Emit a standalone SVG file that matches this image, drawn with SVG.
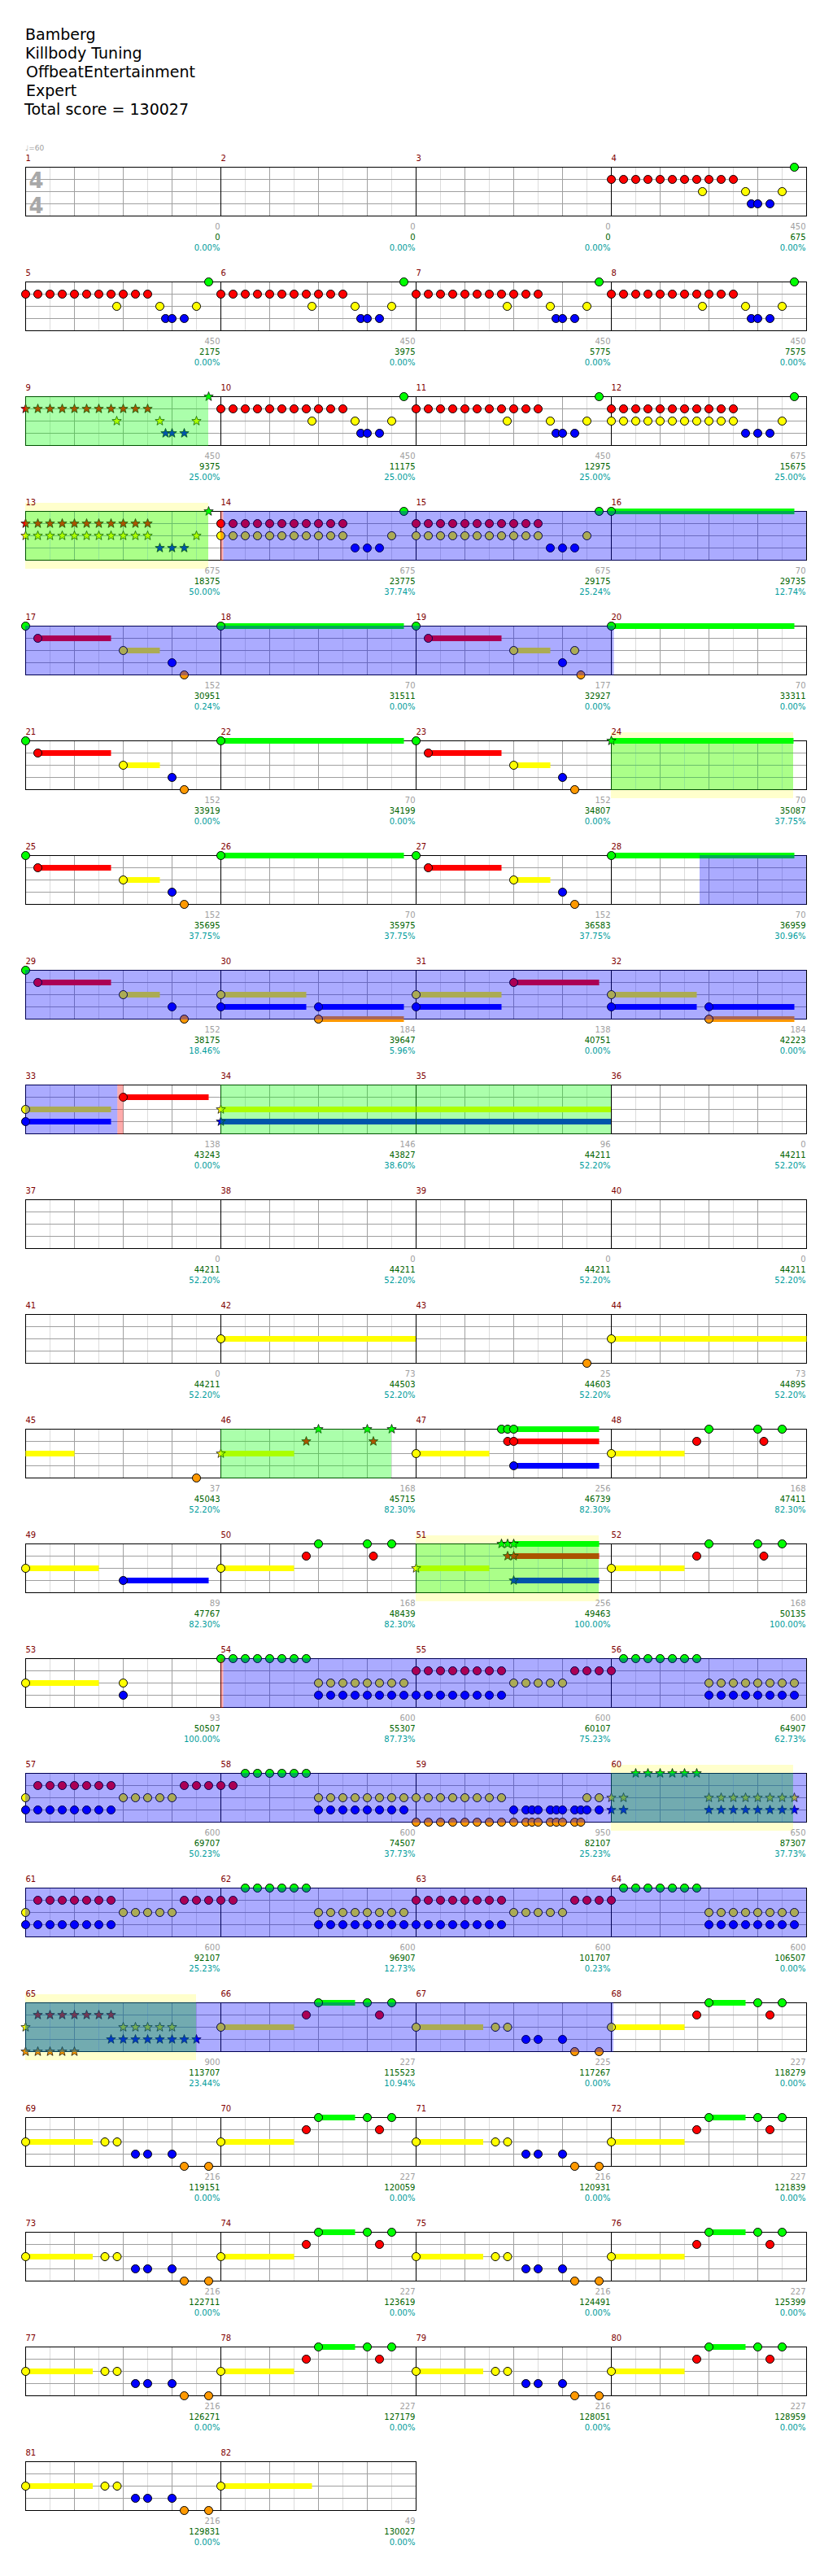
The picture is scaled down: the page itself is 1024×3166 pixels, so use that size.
<svg xmlns="http://www.w3.org/2000/svg" width="1024" height="3166" viewBox="0 0 1024 3166">
<style>
text{font-family:"DejaVu Sans","Liberation Sans",sans-serif}
.t{font-size:19px;fill:#000}
.mn{font-size:10px;fill:#800000}
.tp{font-size:9px;fill:#a0a0a0}
.ts{font-size:26px;font-weight:bold;fill:#a8a8a8}
.a,.b,.c{font-size:10px;text-anchor:end}
.a{fill:#a0a0a0}.b{fill:#006400}.c{fill:#009c9c}
.G{fill:#0f0}.R{fill:#f00}.Y{fill:#ff0}.B{fill:#00f}.O{fill:#f90}
.bl{fill:#00f;fill-opacity:.33}
.gr{fill:#0f0;fill-opacity:.33}
.pk{fill:#f00;fill-opacity:.33}
.yb{fill:#ffffcc}
</style>
<defs>
<g id="grid">
<path d="M30 0V60M90 0V60M150 0V60M210 0V60" stroke="#dcdcdc"/>
<path d="M60 0V60M120 0V60M180 0V60M0 15H240M0 30H240M0 45H240" stroke="#a0a0a0"/>
<rect width="240" height="60" fill="none" stroke="#000"/>
</g>
<circle id="n" r="5" stroke="#000"/>
<path id="s" d="M0-6L1.47-2.02L5.71-1.85L2.38.77L3.53 4.85L0 2.5L-3.53 4.85L-2.38.77L-5.71-1.85L-1.47-2.02Z" stroke="#000" stroke-width=".7"/>
<g id="r5"><use href="#n"/><use href="#n" x="15"/><use href="#n" x="30"/><use href="#n" x="45"/><use href="#n" x="60"/></g>
<g id="r6"><use href="#r5"/><use href="#n" x="75"/></g>
<g id="r7"><use href="#r6"/><use href="#n" x="90"/></g>
<g id="r8"><use href="#r7"/><use href="#n" x="105"/></g>
<g id="r11"><use href="#r8"/><use href="#n" x="120"/><use href="#n" x="135"/><use href="#n" x="150"/></g>
<g id="s5"><use href="#s"/><use href="#s" x="15"/><use href="#s" x="30"/><use href="#s" x="45"/><use href="#s" x="60"/></g>
<g id="s6"><use href="#s5"/><use href="#s" x="75"/></g>
<g id="s7"><use href="#s6"/><use href="#s" x="90"/></g>
<g id="s8"><use href="#s7"/><use href="#s" x="105"/></g>
<g id="s11"><use href="#s8"/><use href="#s" x="120"/><use href="#s" x="135"/><use href="#s" x="150"/></g>
<g id="P"><g class="R" transform="translate(0 15)"><use href="#r11"/></g><g class="Y" transform="translate(0 30)"><use href="#n" x="112"/><use href="#n" x="165"/><use href="#n" x="210"/></g><g class="B" transform="translate(0 45)"><use href="#n" x="172"/><use href="#n" x="180"/><use href="#n" x="195"/></g><g class="G"><use href="#n" x="225"/></g></g>
<g id="Ps"><g class="R" transform="translate(0 15)"><use href="#s11"/></g><g class="Y" transform="translate(0 30)"><use href="#s" x="112"/><use href="#s" x="165"/><use href="#s" x="210"/></g><g class="B" transform="translate(0 45)"><use href="#s" x="172"/><use href="#s" x="180"/><use href="#s" x="195"/></g><g class="G"><use href="#s" x="225"/></g></g>
<g id="Q"><g class="R" transform="translate(0 15)"><use href="#r11"/></g><g class="Y" transform="translate(0 30)"><use href="#r11"/><use href="#n" x="210"/></g><g class="B" transform="translate(0 45)"><use href="#n" x="165"/><use href="#n" x="180"/><use href="#n" x="195"/></g><g class="G"><use href="#n" x="225"/></g></g>
<g id="Qs"><g class="R" transform="translate(0 15)"><use href="#s11"/></g><g class="Y" transform="translate(0 30)"><use href="#s11"/><use href="#s" x="210"/></g><g class="B" transform="translate(0 45)"><use href="#s" x="165"/><use href="#s" x="180"/><use href="#s" x="195"/></g><g class="G"><use href="#s" x="225"/></g></g>
<g id="A"><g class="G"><use href="#n"/></g><g class="R" transform="translate(0 15)"><rect x="15" y="-3.5" width="90" height="7"/><use href="#n" x="15"/></g><g class="Y" transform="translate(0 30)"><rect x="120" y="-3.5" width="45" height="7"/><use href="#n" x="120"/></g><g class="B" transform="translate(0 45)"><use href="#n" x="180"/></g><g class="O" transform="translate(0 60)"><use href="#n" x="195"/></g></g>
<g id="A2"><g class="G"><use href="#n"/></g><g class="R" transform="translate(0 15)"><rect x="15" y="-3.5" width="90" height="7"/><use href="#n" x="15"/></g><g class="Y" transform="translate(0 30)"><rect x="120" y="-3.5" width="45" height="7"/><use href="#n" x="120"/><use href="#n" x="195"/></g><g class="B" transform="translate(0 45)"><use href="#n" x="180"/></g><g class="O" transform="translate(0 60)"><use href="#n" x="202.5"/></g></g>
<g id="L" class="G"><rect y="-3.5" width="225" height="7"/><use href="#n"/></g>
<g id="Ls" class="G"><rect y="-3.5" width="224" height="7"/><use href="#s"/></g>
<g id="C"><g class="Y" transform="translate(0 30)"><rect y="-3.5" width="105" height="7"/><use href="#n"/></g><g class="B" transform="translate(0 45)"><rect y="-3.5" width="105" height="7"/><rect x="120" y="-3.5" width="105" height="7"/><use href="#n"/><use href="#n" x="120"/></g><g class="O" transform="translate(0 60)"><rect x="120" y="-3.5" width="105" height="7"/><use href="#n" x="120"/></g></g>
<g id="D"><g class="Y" transform="translate(0 30)"><rect y="-3.5" width="105" height="7"/><use href="#n"/></g><g class="B" transform="translate(0 45)"><rect y="-3.5" width="105" height="7"/><use href="#n"/></g><g class="R" transform="translate(0 15)"><rect x="120" y="-3.5" width="105" height="7"/><use href="#n" x="120"/></g></g>
<g id="E"><g class="Y" transform="translate(0 30)"><rect y="-3.5" width="90" height="7"/><use href="#n"/></g><g class="R" transform="translate(0 15)"><use href="#n" x="105"/><use href="#n" x="187.5"/></g><g class="G"><use href="#n" x="120"/><use href="#n" x="180"/><use href="#n" x="210"/></g></g>
<g id="Es"><g class="Y" transform="translate(0 30)"><rect y="-3.5" width="90" height="7"/><use href="#s"/></g><g class="R" transform="translate(0 15)"><use href="#s" x="105"/><use href="#s" x="187.5"/></g><g class="G"><use href="#s" x="120"/><use href="#s" x="180"/><use href="#s" x="210"/></g></g>
<g id="F"><g class="Y" transform="translate(0 30)"><rect y="-3.5" width="90" height="7"/><use href="#n"/></g><g class="G"><rect x="120" y="-3.5" width="105" height="7"/><use href="#n" x="105"/><use href="#n" x="112.5"/><use href="#n" x="120"/></g><g class="R" transform="translate(0 15)"><rect x="120" y="-3.5" width="105" height="7"/><use href="#n" x="112.5"/><use href="#n" x="120"/></g><g class="B" transform="translate(0 45)"><rect x="120" y="-3.5" width="105" height="7"/><use href="#n" x="120"/></g></g>
<g id="Fs"><g class="Y" transform="translate(0 30)"><rect y="-3.5" width="90" height="7"/><use href="#s"/></g><g class="G"><rect x="120" y="-3.5" width="105" height="7"/><use href="#s" x="105"/><use href="#s" x="112.5"/><use href="#s" x="120"/></g><g class="R" transform="translate(0 15)"><rect x="120" y="-3.5" width="105" height="7"/><use href="#s" x="112.5"/><use href="#s" x="120"/></g><g class="B" transform="translate(0 45)"><rect x="120" y="-3.5" width="105" height="7"/><use href="#s" x="120"/></g></g>
<g id="K1"><g class="Y" transform="translate(0 30)"><use href="#n"/><use href="#r5" x="120"/></g><g class="B" transform="translate(0 45)"><use href="#r8"/></g><g class="R" transform="translate(0 15)"><use href="#r7" x="15"/><use href="#n" x="195"/><use href="#n" x="210"/><use href="#n" x="225"/></g></g>
<g id="K2"><g class="R" transform="translate(0 15)"><use href="#n"/><use href="#n" x="15"/></g><g class="G"><use href="#r6" x="30"/></g><g class="Y" transform="translate(0 30)"><use href="#r8" x="120"/></g><g class="B" transform="translate(0 45)"><use href="#r8" x="120"/></g></g>
<g id="K3"><g class="R" transform="translate(0 15)"><use href="#r8"/><use href="#n" x="195"/><use href="#n" x="210"/><use href="#n" x="225"/></g><g class="B" transform="translate(0 45)"><use href="#r8"/></g><g class="Y" transform="translate(0 30)"><use href="#r5" x="120"/></g></g>
<g id="K4"><g class="R" transform="translate(0 15)"><use href="#n"/></g><g class="G"><use href="#r7" x="15"/></g><g class="Y" transform="translate(0 30)"><use href="#r8" x="120"/></g><g class="B" transform="translate(0 45)"><use href="#r8" x="120"/></g></g>
<g id="U"><g class="Y" transform="translate(0 30)"><rect y="-3.5" width="82.5" height="7"/><use href="#n"/><use href="#n" x="97.5"/><use href="#n" x="112.5"/></g><g class="B" transform="translate(0 45)"><use href="#n" x="135"/><use href="#n" x="150"/><use href="#n" x="180"/></g><g class="O" transform="translate(0 60)"><use href="#n" x="195"/><use href="#n" x="225"/></g></g>
<g id="V"><g class="Y" transform="translate(0 30)"><rect y="-3.5" width="90" height="7"/><use href="#n"/></g><g class="R" transform="translate(0 15)"><use href="#n" x="105"/><use href="#n" x="195"/></g><g class="G"><rect x="120" y="-3.5" width="45" height="7"/><use href="#n" x="120"/><use href="#n" x="180"/><use href="#n" x="210"/></g></g>
</defs>
<rect width="1024" height="3166" fill="#fff"/>
<g id="title">
<text class="t" x="31" y="49">Bamberg</text>
<text class="t" x="31" y="72">Killbody Tuning</text>
<text class="t" x="32" y="95">OffbeatEntertainment</text>
<text class="t" x="32" y="118">Expert</text>
<text class="t" x="30" y="141">Total score = 130027</text>
<text class="tp" x="31" y="185">♩=60</text>
</g>
<g id="bands">
<rect class="yb" x="31" y="618" width="225" height="81"/>
<rect class="yb" x="751" y="900" width="224" height="81"/>
<rect class="yb" x="511" y="1887" width="225" height="81"/>
<rect class="yb" x="751" y="2169" width="224" height="81"/>
<rect class="yb" x="31" y="2451" width="210" height="81"/>
</g>
<g id="m1" transform="translate(31.5 205.5)"><use href="#grid"/><text class="mn" y="-8">1</text><text class="ts" x="4" y="25.5">4</text><text class="ts" x="4" y="56.5">4</text><text class="a" x="239" y="76">0</text><text class="b" x="239" y="89">0</text><text class="c" x="239" y="102">0.00%</text></g>
<g id="m2" transform="translate(271.5 205.5)"><use href="#grid"/><text class="mn" y="-8">2</text><text class="a" x="239" y="76">0</text><text class="b" x="239" y="89">0</text><text class="c" x="239" y="102">0.00%</text></g>
<g id="m3" transform="translate(511.5 205.5)"><use href="#grid"/><text class="mn" y="-8">3</text><text class="a" x="239" y="76">0</text><text class="b" x="239" y="89">0</text><text class="c" x="239" y="102">0.00%</text></g>
<g id="m4" transform="translate(751.5 205.5)"><use href="#grid"/><text class="mn" y="-8">4</text><use href="#P"/><text class="a" x="239" y="76">450</text><text class="b" x="239" y="89">675</text><text class="c" x="239" y="102">0.00%</text></g>
<g id="m5" transform="translate(31.5 346.5)"><use href="#grid"/><text class="mn" y="-8">5</text><use href="#P"/><text class="a" x="239" y="76">450</text><text class="b" x="239" y="89">2175</text><text class="c" x="239" y="102">0.00%</text></g>
<g id="m6" transform="translate(271.5 346.5)"><use href="#grid"/><text class="mn" y="-8">6</text><use href="#P"/><text class="a" x="239" y="76">450</text><text class="b" x="239" y="89">3975</text><text class="c" x="239" y="102">0.00%</text></g>
<g id="m7" transform="translate(511.5 346.5)"><use href="#grid"/><text class="mn" y="-8">7</text><use href="#P"/><text class="a" x="239" y="76">450</text><text class="b" x="239" y="89">5775</text><text class="c" x="239" y="102">0.00%</text></g>
<g id="m8" transform="translate(751.5 346.5)"><use href="#grid"/><text class="mn" y="-8">8</text><use href="#P"/><text class="a" x="239" y="76">450</text><text class="b" x="239" y="89">7575</text><text class="c" x="239" y="102">0.00%</text></g>
<g id="m9" transform="translate(31.5 487.5)"><use href="#grid"/><text class="mn" y="-8">9</text><use href="#Ps"/><text class="a" x="239" y="76">450</text><text class="b" x="239" y="89">9375</text><text class="c" x="239" y="102">25.00%</text></g>
<g id="m10" transform="translate(271.5 487.5)"><use href="#grid"/><text class="mn" y="-8">10</text><use href="#P"/><text class="a" x="239" y="76">450</text><text class="b" x="239" y="89">11175</text><text class="c" x="239" y="102">25.00%</text></g>
<g id="m11" transform="translate(511.5 487.5)"><use href="#grid"/><text class="mn" y="-8">11</text><use href="#P"/><text class="a" x="239" y="76">450</text><text class="b" x="239" y="89">12975</text><text class="c" x="239" y="102">25.00%</text></g>
<g id="m12" transform="translate(751.5 487.5)"><use href="#grid"/><text class="mn" y="-8">12</text><use href="#Q"/><text class="a" x="239" y="76">675</text><text class="b" x="239" y="89">15675</text><text class="c" x="239" y="102">25.00%</text></g>
<g id="m13" transform="translate(31.5 628.5)"><use href="#grid"/><text class="mn" y="-8">13</text><use href="#Qs"/><text class="a" x="239" y="76">675</text><text class="b" x="239" y="89">18375</text><text class="c" x="239" y="102">50.00%</text></g>
<g id="m14" transform="translate(271.5 628.5)"><use href="#grid"/><text class="mn" y="-8">14</text><use href="#Q"/><text class="a" x="239" y="76">675</text><text class="b" x="239" y="89">23775</text><text class="c" x="239" y="102">37.74%</text></g>
<g id="m15" transform="translate(511.5 628.5)"><use href="#grid"/><text class="mn" y="-8">15</text><use href="#Q"/><text class="a" x="239" y="76">675</text><text class="b" x="239" y="89">29175</text><text class="c" x="239" y="102">25.24%</text></g>
<g id="m16" transform="translate(751.5 628.5)"><use href="#grid"/><text class="mn" y="-8">16</text><use href="#L"/><text class="a" x="239" y="76">70</text><text class="b" x="239" y="89">29735</text><text class="c" x="239" y="102">12.74%</text></g>
<g id="m17" transform="translate(31.5 769.5)"><use href="#grid"/><text class="mn" y="-8">17</text><use href="#A"/><text class="a" x="239" y="76">152</text><text class="b" x="239" y="89">30951</text><text class="c" x="239" y="102">0.24%</text></g>
<g id="m18" transform="translate(271.5 769.5)"><use href="#grid"/><text class="mn" y="-8">18</text><use href="#L"/><text class="a" x="239" y="76">70</text><text class="b" x="239" y="89">31511</text><text class="c" x="239" y="102">0.00%</text></g>
<g id="m19" transform="translate(511.5 769.5)"><use href="#grid"/><text class="mn" y="-8">19</text><use href="#A2"/><text class="a" x="239" y="76">177</text><text class="b" x="239" y="89">32927</text><text class="c" x="239" y="102">0.00%</text></g>
<g id="m20" transform="translate(751.5 769.5)"><use href="#grid"/><text class="mn" y="-8">20</text><use href="#L"/><text class="a" x="239" y="76">70</text><text class="b" x="239" y="89">33311</text><text class="c" x="239" y="102">0.00%</text></g>
<g id="m21" transform="translate(31.5 910.5)"><use href="#grid"/><text class="mn" y="-8">21</text><use href="#A"/><text class="a" x="239" y="76">152</text><text class="b" x="239" y="89">33919</text><text class="c" x="239" y="102">0.00%</text></g>
<g id="m22" transform="translate(271.5 910.5)"><use href="#grid"/><text class="mn" y="-8">22</text><use href="#L"/><text class="a" x="239" y="76">70</text><text class="b" x="239" y="89">34199</text><text class="c" x="239" y="102">0.00%</text></g>
<g id="m23" transform="translate(511.5 910.5)"><use href="#grid"/><text class="mn" y="-8">23</text><use href="#A"/><text class="a" x="239" y="76">152</text><text class="b" x="239" y="89">34807</text><text class="c" x="239" y="102">0.00%</text></g>
<g id="m24" transform="translate(751.5 910.5)"><use href="#grid"/><text class="mn" y="-8">24</text><use href="#Ls"/><text class="a" x="239" y="76">70</text><text class="b" x="239" y="89">35087</text><text class="c" x="239" y="102">37.75%</text></g>
<g id="m25" transform="translate(31.5 1051.5)"><use href="#grid"/><text class="mn" y="-8">25</text><use href="#A"/><text class="a" x="239" y="76">152</text><text class="b" x="239" y="89">35695</text><text class="c" x="239" y="102">37.75%</text></g>
<g id="m26" transform="translate(271.5 1051.5)"><use href="#grid"/><text class="mn" y="-8">26</text><use href="#L"/><text class="a" x="239" y="76">70</text><text class="b" x="239" y="89">35975</text><text class="c" x="239" y="102">37.75%</text></g>
<g id="m27" transform="translate(511.5 1051.5)"><use href="#grid"/><text class="mn" y="-8">27</text><use href="#A"/><text class="a" x="239" y="76">152</text><text class="b" x="239" y="89">36583</text><text class="c" x="239" y="102">37.75%</text></g>
<g id="m28" transform="translate(751.5 1051.5)"><use href="#grid"/><text class="mn" y="-8">28</text><use href="#L"/><text class="a" x="239" y="76">70</text><text class="b" x="239" y="89">36959</text><text class="c" x="239" y="102">30.96%</text></g>
<g id="m29" transform="translate(31.5 1192.5)"><use href="#grid"/><text class="mn" y="-8">29</text><use href="#A"/><text class="a" x="239" y="76">152</text><text class="b" x="239" y="89">38175</text><text class="c" x="239" y="102">18.46%</text></g>
<g id="m30" transform="translate(271.5 1192.5)"><use href="#grid"/><text class="mn" y="-8">30</text><use href="#C"/><text class="a" x="239" y="76">184</text><text class="b" x="239" y="89">39647</text><text class="c" x="239" y="102">5.96%</text></g>
<g id="m31" transform="translate(511.5 1192.5)"><use href="#grid"/><text class="mn" y="-8">31</text><use href="#D"/><text class="a" x="239" y="76">138</text><text class="b" x="239" y="89">40751</text><text class="c" x="239" y="102">0.00%</text></g>
<g id="m32" transform="translate(751.5 1192.5)"><use href="#grid"/><text class="mn" y="-8">32</text><use href="#C"/><text class="a" x="239" y="76">184</text><text class="b" x="239" y="89">42223</text><text class="c" x="239" y="102">0.00%</text></g>
<g id="m33" transform="translate(31.5 1333.5)"><use href="#grid"/><text class="mn" y="-8">33</text><use href="#D"/><text class="a" x="239" y="76">138</text><text class="b" x="239" y="89">43243</text><text class="c" x="239" y="102">0.00%</text></g>
<g id="m34" transform="translate(271.5 1333.5)"><use href="#grid"/><text class="mn" y="-8">34</text><g class="Y" transform="translate(0 30)"><rect y="-3.5" width="240" height="7"/><use href="#s"/></g><g class="B" transform="translate(0 45)"><rect y="-3.5" width="240" height="7"/><use href="#s"/></g><text class="a" x="239" y="76">146</text><text class="b" x="239" y="89">43827</text><text class="c" x="239" y="102">38.60%</text></g>
<g id="m35" transform="translate(511.5 1333.5)"><use href="#grid"/><text class="mn" y="-8">35</text><rect class="Y" y="26.5" width="240" height="7"/><rect class="B" y="41.5" width="240" height="7"/><text class="a" x="239" y="76">96</text><text class="b" x="239" y="89">44211</text><text class="c" x="239" y="102">52.20%</text></g>
<g id="m36" transform="translate(751.5 1333.5)"><use href="#grid"/><text class="mn" y="-8">36</text><text class="a" x="239" y="76">0</text><text class="b" x="239" y="89">44211</text><text class="c" x="239" y="102">52.20%</text></g>
<g id="m37" transform="translate(31.5 1474.5)"><use href="#grid"/><text class="mn" y="-8">37</text><text class="a" x="239" y="76">0</text><text class="b" x="239" y="89">44211</text><text class="c" x="239" y="102">52.20%</text></g>
<g id="m38" transform="translate(271.5 1474.5)"><use href="#grid"/><text class="mn" y="-8">38</text><text class="a" x="239" y="76">0</text><text class="b" x="239" y="89">44211</text><text class="c" x="239" y="102">52.20%</text></g>
<g id="m39" transform="translate(511.5 1474.5)"><use href="#grid"/><text class="mn" y="-8">39</text><text class="a" x="239" y="76">0</text><text class="b" x="239" y="89">44211</text><text class="c" x="239" y="102">52.20%</text></g>
<g id="m40" transform="translate(751.5 1474.5)"><use href="#grid"/><text class="mn" y="-8">40</text><text class="a" x="239" y="76">0</text><text class="b" x="239" y="89">44211</text><text class="c" x="239" y="102">52.20%</text></g>
<g id="m41" transform="translate(31.5 1615.5)"><use href="#grid"/><text class="mn" y="-8">41</text><text class="a" x="239" y="76">0</text><text class="b" x="239" y="89">44211</text><text class="c" x="239" y="102">52.20%</text></g>
<g id="m42" transform="translate(271.5 1615.5)"><use href="#grid"/><text class="mn" y="-8">42</text><g class="Y" transform="translate(0 30)"><rect y="-3.5" width="240" height="7"/><use href="#n"/></g><text class="a" x="239" y="76">73</text><text class="b" x="239" y="89">44503</text><text class="c" x="239" y="102">52.20%</text></g>
<g id="m43" transform="translate(511.5 1615.5)"><use href="#grid"/><text class="mn" y="-8">43</text><g class="O" transform="translate(0 60)"><use href="#n" x="210"/></g><text class="a" x="239" y="76">25</text><text class="b" x="239" y="89">44603</text><text class="c" x="239" y="102">52.20%</text></g>
<g id="m44" transform="translate(751.5 1615.5)"><use href="#grid"/><text class="mn" y="-8">44</text><g class="Y" transform="translate(0 30)"><rect y="-3.5" width="240" height="7"/><use href="#n"/></g><text class="a" x="239" y="76">73</text><text class="b" x="239" y="89">44895</text><text class="c" x="239" y="102">52.20%</text></g>
<g id="m45" transform="translate(31.5 1756.5)"><use href="#grid"/><text class="mn" y="-8">45</text><rect class="Y" y="26.5" width="60" height="7"/><g class="O" transform="translate(0 60)"><use href="#n" x="210"/></g><text class="a" x="239" y="76">37</text><text class="b" x="239" y="89">45043</text><text class="c" x="239" y="102">52.20%</text></g>
<g id="m46" transform="translate(271.5 1756.5)"><use href="#grid"/><text class="mn" y="-8">46</text><use href="#Es"/><text class="a" x="239" y="76">168</text><text class="b" x="239" y="89">45715</text><text class="c" x="239" y="102">82.30%</text></g>
<g id="m47" transform="translate(511.5 1756.5)"><use href="#grid"/><text class="mn" y="-8">47</text><use href="#F"/><text class="a" x="239" y="76">256</text><text class="b" x="239" y="89">46739</text><text class="c" x="239" y="102">82.30%</text></g>
<g id="m48" transform="translate(751.5 1756.5)"><use href="#grid"/><text class="mn" y="-8">48</text><use href="#E"/><text class="a" x="239" y="76">168</text><text class="b" x="239" y="89">47411</text><text class="c" x="239" y="102">82.30%</text></g>
<g id="m49" transform="translate(31.5 1897.5)"><use href="#grid"/><text class="mn" y="-8">49</text><g class="Y" transform="translate(0 30)"><rect y="-3.5" width="90" height="7"/><use href="#n"/></g><g class="B" transform="translate(0 45)"><rect x="120" y="-3.5" width="105" height="7"/><use href="#n" x="120"/></g><text class="a" x="239" y="76">89</text><text class="b" x="239" y="89">47767</text><text class="c" x="239" y="102">82.30%</text></g>
<g id="m50" transform="translate(271.5 1897.5)"><use href="#grid"/><text class="mn" y="-8">50</text><use href="#E"/><text class="a" x="239" y="76">168</text><text class="b" x="239" y="89">48439</text><text class="c" x="239" y="102">82.30%</text></g>
<g id="m51" transform="translate(511.5 1897.5)"><use href="#grid"/><text class="mn" y="-8">51</text><use href="#Fs"/><text class="a" x="239" y="76">256</text><text class="b" x="239" y="89">49463</text><text class="c" x="239" y="102">100.00%</text></g>
<g id="m52" transform="translate(751.5 1897.5)"><use href="#grid"/><text class="mn" y="-8">52</text><use href="#E"/><text class="a" x="239" y="76">168</text><text class="b" x="239" y="89">50135</text><text class="c" x="239" y="102">100.00%</text></g>
<g id="m53" transform="translate(31.5 2038.5)"><use href="#grid"/><text class="mn" y="-8">53</text><g class="Y" transform="translate(0 30)"><rect y="-3.5" width="90" height="7"/><use href="#n"/><use href="#n" x="120"/></g><g class="B" transform="translate(0 45)"><use href="#n" x="120"/></g><text class="a" x="239" y="76">93</text><text class="b" x="239" y="89">50507</text><text class="c" x="239" y="102">100.00%</text></g>
<g id="m54" transform="translate(271.5 2038.5)"><use href="#grid"/><text class="mn" y="-8">54</text><g class="G"><use href="#r8"/></g><g class="Y" transform="translate(0 30)"><use href="#r8" x="120"/></g><g class="B" transform="translate(0 45)"><use href="#r8" x="120"/></g><text class="a" x="239" y="76">600</text><text class="b" x="239" y="89">55307</text><text class="c" x="239" y="102">87.73%</text></g>
<g id="m55" transform="translate(511.5 2038.5)"><use href="#grid"/><text class="mn" y="-8">55</text><use href="#K3"/><text class="a" x="239" y="76">600</text><text class="b" x="239" y="89">60107</text><text class="c" x="239" y="102">75.23%</text></g>
<g id="m56" transform="translate(751.5 2038.5)"><use href="#grid"/><text class="mn" y="-8">56</text><use href="#K4"/><text class="a" x="239" y="76">600</text><text class="b" x="239" y="89">64907</text><text class="c" x="239" y="102">62.73%</text></g>
<g id="m57" transform="translate(31.5 2179.5)"><use href="#grid"/><text class="mn" y="-8">57</text><use href="#K1"/><text class="a" x="239" y="76">600</text><text class="b" x="239" y="89">69707</text><text class="c" x="239" y="102">50.23%</text></g>
<g id="m58" transform="translate(271.5 2179.5)"><use href="#grid"/><text class="mn" y="-8">58</text><use href="#K2"/><text class="a" x="239" y="76">600</text><text class="b" x="239" y="89">74507</text><text class="c" x="239" y="102">37.73%</text></g>
<g id="m59" transform="translate(511.5 2179.5)"><use href="#grid"/><text class="mn" y="-8">59</text><g class="Y" transform="translate(0 30)"><use href="#r8"/><use href="#n" x="210"/><use href="#n" x="225"/></g><g class="O" transform="translate(0 60)"><use href="#r8"/><use href="#n" x="120"/><use href="#n" x="135"/><use href="#n" x="142.5"/><use href="#n" x="150"/><use href="#n" x="165"/><use href="#n" x="172.5"/><use href="#n" x="180"/><use href="#n" x="195"/><use href="#n" x="202.5"/></g><g class="B" transform="translate(0 45)"><use href="#n" x="120"/><use href="#n" x="135"/><use href="#n" x="142.5"/><use href="#n" x="150"/><use href="#n" x="165"/><use href="#n" x="172.5"/><use href="#n" x="180"/><use href="#n" x="195"/><use href="#n" x="202.5"/><use href="#n" x="210"/><use href="#n" x="225"/></g><text class="a" x="239" y="76">950</text><text class="b" x="239" y="89">82107</text><text class="c" x="239" y="102">25.23%</text></g>
<g id="m60" transform="translate(751.5 2179.5)"><use href="#grid"/><text class="mn" y="-8">60</text><g class="G"><use href="#s6" x="30"/></g><g class="Y" transform="translate(0 30)"><use href="#s"/><use href="#s" x="15"/><use href="#s8" x="120"/></g><g class="B" transform="translate(0 45)"><use href="#s"/><use href="#s" x="15"/><use href="#s8" x="120"/></g><text class="a" x="239" y="76">650</text><text class="b" x="239" y="89">87307</text><text class="c" x="239" y="102">37.73%</text></g>
<g id="m61" transform="translate(31.5 2320.5)"><use href="#grid"/><text class="mn" y="-8">61</text><use href="#K1"/><text class="a" x="239" y="76">600</text><text class="b" x="239" y="89">92107</text><text class="c" x="239" y="102">25.23%</text></g>
<g id="m62" transform="translate(271.5 2320.5)"><use href="#grid"/><text class="mn" y="-8">62</text><use href="#K2"/><text class="a" x="239" y="76">600</text><text class="b" x="239" y="89">96907</text><text class="c" x="239" y="102">12.73%</text></g>
<g id="m63" transform="translate(511.5 2320.5)"><use href="#grid"/><text class="mn" y="-8">63</text><use href="#K3"/><text class="a" x="239" y="76">600</text><text class="b" x="239" y="89">101707</text><text class="c" x="239" y="102">0.23%</text></g>
<g id="m64" transform="translate(751.5 2320.5)"><use href="#grid"/><text class="mn" y="-8">64</text><use href="#K4"/><text class="a" x="239" y="76">600</text><text class="b" x="239" y="89">106507</text><text class="c" x="239" y="102">0.00%</text></g>
<g id="m65" transform="translate(31.5 2461.5)"><use href="#grid"/><text class="mn" y="-8">65</text><g class="R" transform="translate(0 15)"><use href="#s7" x="15"/></g><g class="Y" transform="translate(0 30)"><use href="#s"/><use href="#s5" x="120"/></g><g class="B" transform="translate(0 45)"><use href="#s8" x="105"/></g><g class="O" transform="translate(0 60)"><use href="#s5"/></g><text class="a" x="239" y="76">900</text><text class="b" x="239" y="89">113707</text><text class="c" x="239" y="102">23.44%</text></g>
<g id="m66" transform="translate(271.5 2461.5)"><use href="#grid"/><text class="mn" y="-8">66</text><use href="#V"/><text class="a" x="239" y="76">227</text><text class="b" x="239" y="89">115523</text><text class="c" x="239" y="102">10.94%</text></g>
<g id="m67" transform="translate(511.5 2461.5)"><use href="#grid"/><text class="mn" y="-8">67</text><use href="#U"/><text class="a" x="239" y="76">225</text><text class="b" x="239" y="89">117267</text><text class="c" x="239" y="102">0.00%</text></g>
<g id="m68" transform="translate(751.5 2461.5)"><use href="#grid"/><text class="mn" y="-8">68</text><use href="#V"/><text class="a" x="239" y="76">227</text><text class="b" x="239" y="89">118279</text><text class="c" x="239" y="102">0.00%</text></g>
<g id="m69" transform="translate(31.5 2602.5)"><use href="#grid"/><text class="mn" y="-8">69</text><use href="#U"/><text class="a" x="239" y="76">216</text><text class="b" x="239" y="89">119151</text><text class="c" x="239" y="102">0.00%</text></g>
<g id="m70" transform="translate(271.5 2602.5)"><use href="#grid"/><text class="mn" y="-8">70</text><use href="#V"/><text class="a" x="239" y="76">227</text><text class="b" x="239" y="89">120059</text><text class="c" x="239" y="102">0.00%</text></g>
<g id="m71" transform="translate(511.5 2602.5)"><use href="#grid"/><text class="mn" y="-8">71</text><use href="#U"/><text class="a" x="239" y="76">216</text><text class="b" x="239" y="89">120931</text><text class="c" x="239" y="102">0.00%</text></g>
<g id="m72" transform="translate(751.5 2602.5)"><use href="#grid"/><text class="mn" y="-8">72</text><use href="#V"/><text class="a" x="239" y="76">227</text><text class="b" x="239" y="89">121839</text><text class="c" x="239" y="102">0.00%</text></g>
<g id="m73" transform="translate(31.5 2743.5)"><use href="#grid"/><text class="mn" y="-8">73</text><use href="#U"/><text class="a" x="239" y="76">216</text><text class="b" x="239" y="89">122711</text><text class="c" x="239" y="102">0.00%</text></g>
<g id="m74" transform="translate(271.5 2743.5)"><use href="#grid"/><text class="mn" y="-8">74</text><use href="#V"/><text class="a" x="239" y="76">227</text><text class="b" x="239" y="89">123619</text><text class="c" x="239" y="102">0.00%</text></g>
<g id="m75" transform="translate(511.5 2743.5)"><use href="#grid"/><text class="mn" y="-8">75</text><use href="#U"/><text class="a" x="239" y="76">216</text><text class="b" x="239" y="89">124491</text><text class="c" x="239" y="102">0.00%</text></g>
<g id="m76" transform="translate(751.5 2743.5)"><use href="#grid"/><text class="mn" y="-8">76</text><use href="#V"/><text class="a" x="239" y="76">227</text><text class="b" x="239" y="89">125399</text><text class="c" x="239" y="102">0.00%</text></g>
<g id="m77" transform="translate(31.5 2884.5)"><use href="#grid"/><text class="mn" y="-8">77</text><use href="#U"/><text class="a" x="239" y="76">216</text><text class="b" x="239" y="89">126271</text><text class="c" x="239" y="102">0.00%</text></g>
<g id="m78" transform="translate(271.5 2884.5)"><use href="#grid"/><text class="mn" y="-8">78</text><use href="#V"/><text class="a" x="239" y="76">227</text><text class="b" x="239" y="89">127179</text><text class="c" x="239" y="102">0.00%</text></g>
<g id="m79" transform="translate(511.5 2884.5)"><use href="#grid"/><text class="mn" y="-8">79</text><use href="#U"/><text class="a" x="239" y="76">216</text><text class="b" x="239" y="89">128051</text><text class="c" x="239" y="102">0.00%</text></g>
<g id="m80" transform="translate(751.5 2884.5)"><use href="#grid"/><text class="mn" y="-8">80</text><use href="#V"/><text class="a" x="239" y="76">227</text><text class="b" x="239" y="89">128959</text><text class="c" x="239" y="102">0.00%</text></g>
<g id="m81" transform="translate(31.5 3025.5)"><use href="#grid"/><text class="mn" y="-8">81</text><use href="#U"/><text class="a" x="239" y="76">216</text><text class="b" x="239" y="89">129831</text><text class="c" x="239" y="102">0.00%</text></g>
<g id="m82" transform="translate(271.5 3025.5)"><use href="#grid"/><text class="mn" y="-8">82</text><g class="Y" transform="translate(0 30)"><rect y="-3.5" width="112" height="7"/><use href="#n"/></g><text class="a" x="239" y="76">49</text><text class="b" x="239" y="89">130027</text><text class="c" x="239" y="102">0.00%</text></g>
<g id="overlays">
<rect class="gr" x="31" y="487" width="225" height="61"/>
<rect class="gr" x="31" y="628" width="225" height="61"/>
<rect class="gr" x="751" y="910" width="224" height="61"/>
<rect class="gr" x="271" y="1333" width="480" height="61"/>
<rect class="gr" x="271" y="1756" width="210" height="61"/>
<rect class="gr" x="511" y="1897" width="225" height="61"/>
<rect class="gr" x="751" y="2179" width="224" height="61"/>
<rect class="gr" x="31" y="2461" width="210" height="61"/>
<rect class="pk" x="271" y="628" width="3.5" height="61"/>
<rect class="bl" x="274.5" y="628" width="716.5" height="61"/>
<rect class="bl" x="31" y="769" width="723.5" height="61"/>
<rect class="bl" x="860" y="1051" width="131" height="61"/>
<rect class="bl" x="31" y="1192" width="960" height="61"/>
<rect class="bl" x="31" y="1333" width="113.3" height="61"/>
<rect class="pk" x="144.3" y="1333" width="7.2" height="61"/>
<rect class="pk" x="271" y="2038" width="3.5" height="61"/>
<rect class="bl" x="274.5" y="2038" width="716.5" height="61"/>
<rect class="bl" x="31" y="2179" width="960" height="61"/>
<rect class="bl" x="31" y="2320" width="960" height="61"/>
<rect class="bl" x="31" y="2461" width="723" height="61"/>
</g>
</svg>
